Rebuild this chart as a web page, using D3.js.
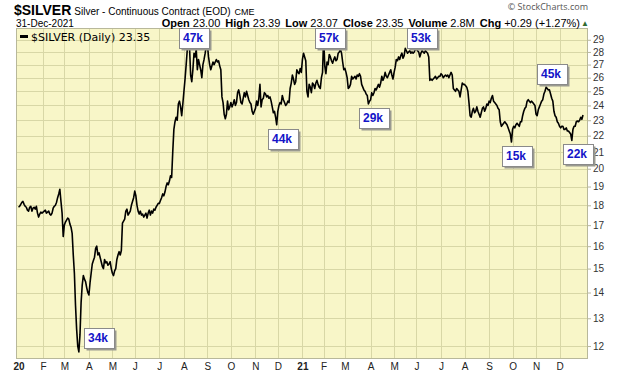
<!DOCTYPE html>
<html>
<head>
<meta charset="utf-8">
<script src="https://cdn.jsdelivr.net/npm/d3@7"></script>
<style>
body { margin: 0; background: #fff; }
svg { display: block; }
</style>
</head>
<body>
<div id="chart"></div>
<script>
// daily closes, one inner array per month
var closes2020 = [
	[17.9,17.95,18.05,18.15,18.2,18.05,17.95,17.9,17.75,17.7,17.9,17.95,17.7,17.85,17.9,17.8,17.95,17.6,17.4,17.55,17.65,17.6],
	[17.65,17.7,17.75,17.6,17.65,17.7,17.55,17.5,17.6,17.85,17.95,18.0,18.15,18.4,18.6,18.85,18.2,17.6,16.45],
	[17.0,17.15,17.25,17.35,17.3,17.05,16.9,16.6,15.6,14.8,13.5,12.6,12.0,11.8,12.4,13.6,14.3,14.7,14.55,14.45,14.2,14.0],
	[13.9,14.4,14.8,15.2,15.35,15.5,15.9,16.0,15.6,15.7,15.5,15.3,15.1,15.0,15.4,15.25,15.3,15.15,15.2,15.3,15.0],
	[14.8,14.7,14.9,15.0,15.4,15.6,15.75,15.6,15.8,17.1,17.2,17.3,17.7,17.8,17.5,17.6,17.7,18.0,18.2,18.4],
	[18.75,18.5,18.0,17.7,17.55,17.7,17.5,17.55,17.4,17.5,17.6,17.35,17.6,17.75,17.5,17.7,17.6,17.8,17.75,17.9,18.0,18.1],
	[18.1,18.25,18.4,18.6,18.5,18.7,19.0,19.2,19.1,19.3,19.6,19.5,21.0,22.4,22.9,23.2,23.0,24.1,24.3,23.9,23.3,24.1],
	[25.0,25.9,27.0,28.2,28.7,28.4,26.2,25.7,26.6,27.9,27.6,28.2,26.6,27.4,27.0,26.6,26.0,27.0,27.4,27.9,28.5],
	[28.6,27.6,27.0,26.6,26.9,27.2,27.0,27.2,27.4,27.2,27.3,26.9,26.6,24.6,24.2,23.4,23.1,23.4,24.3,23.7,23.9],
	[24.2,23.9,24.1,24.4,24.0,24.2,24.9,25.1,24.7,24.2,24.1,24.5,24.9,24.6,25.0,24.7,24.4,24.2,24.1,23.6,23.4,23.6],
	[23.8,24.3,24.0,24.5,25.5,23.9,24.4,24.5,24.9,24.8,24.6,24.7,24.5,24.6,24.3,23.9,23.5,23.6,23.2,22.7],
	[23.6,24.0,24.2,24.1,24.7,24.4,24.2,24.0,24.1,24.3,24.2,25.2,25.6,26.2,25.9,25.5,25.7,26.6,26.4,26.3,26.7,26.4]
];
var closes2021 = [
	[27.4,27.9,27.6,27.3,25.0,24.6,25.5,25.3,24.9,25.6,25.5,25.2,25.6,25.8,25.5,25.3,25.2,26.0,26.4],
	[29.3,26.9,26.3,27.2,27.0,27.8,27.6,27.3,27.1,27.4,27.6,27.3,27.4,27.9,28.0,28.2,27.9,27.2,26.6],
	[26.7,26.4,26.0,25.2,25.3,25.5,26.1,25.9,26.0,26.1,25.9,26.2,26.1,26.3,26.1,25.5,25.3,25.1,25.0,24.8,24.7,24.1,24.3],
	[24.4,24.9,24.7,24.9,25.2,25.1,25.3,25.5,25.3,25.6,26.1,25.8,26.0,26.4,26.1,26.0,26.2,26.4,26.6,26.2,25.9],
	[26.4,26.8,27.4,27.3,27.6,27.4,27.7,27.9,27.5,27.7,28.3,28.1,27.9,28.0,28.1,27.9,28.0,27.9,28.0,28.2],
	[28.3,28.1,28.0,27.6,27.9,28.1,28.0,27.9,28.1,28.0,27.9,27.6,25.8,25.9,25.8,25.9,26.0,26.1,25.9,26.0,26.1,26.1],
	[26.3,26.2,26.0,26.1,26.2,26.1,26.2,26.0,26.2,26.4,26.2,25.2,25.1,25.0,25.2,25.1,25.0,24.6,25.1,25.6,25.5],
	[25.5,25.4,25.3,25.0,24.2,23.3,23.2,23.6,23.8,23.5,23.6,23.9,23.6,23.4,23.2,23.5,23.8,23.9,23.6,23.8,24.1,24.0],
	[24.3,24.2,24.5,24.7,24.3,24.2,24.1,24.0,23.8,23.7,22.9,22.6,22.7,22.8,22.9,22.8,22.7,22.5,22.3,22.1,21.6],
	[22.4,22.6,22.5,22.7,22.8,22.7,22.6,22.9,22.9,23.3,23.6,23.8,23.9,24.3,24.4,24.3,24.2,24.3,24.2,24.1,24.0],
	[23.4,23.3,23.7,23.9,24.1,24.3,24.4,24.8,25.0,25.3,25.2,25.1,25.1,24.8,24.5,24.3,23.6,23.3,23.2,22.9,22.8],
	[22.6,22.5,22.6,22.6,22.4,22.4,22.5,22.3,22.3,22.2,22.1,21.7,22.4,22.6,22.6,22.9,22.95,22.9,23.0,23.2,23.06,23.35]
];
var monthLabels = ["20","F","M","A","M","J","J","A","S","O","N","D","21","F","M","A","M","J","J","A","S","O","N","D"];
var priceTicks = [12,13,14,15,16,17,18,19,20,21,22,23,24,25,26,27,28,29];

// volume notes at swing points
var volLabels = ["34k","47k","44k","57k","29k","53k","15k","45k","22k"];
var volDays = [54, 152, 231, 273, 313, 356, 441, 472, 495];
var volSide = ["right","above","below","above","below","above","below","above","below"];

var width = 620, height = 376;
var plot = {left: 16, right: 588, top: 28, bottom: 359};
var sans = "'Liberation Sans', Arial, sans-serif";

//flatten months
var series = [];
var monthStarts = [];
closes2020.concat(closes2021).forEach(function(m) {
	monthStarts.push(series.length);
	m.forEach(function(v) { series.push(v); });
});

var x = d3.scaleLinear().domain([0, series.length - 1]).range([18.5, 583]);
var y = d3.scaleLog().domain([11.56, 30.0]).range([plot.bottom, plot.top]);

var svg = d3.select("#chart").append("svg")
	.attr("width", width)
	.attr("height", height);

//plot background
svg.append("rect")
	.attr("x", plot.left).attr("y", plot.top)
	.attr("width", plot.right - plot.left).attr("height", plot.bottom - plot.top)
	.attr("fill", "#f8f6c8");

//grid
svg.append("g").selectAll("line")
	.data(priceTicks)
	.enter().append("line")
	.attr("x1", plot.left).attr("x2", plot.right)
	.attr("y1", function(d) { return Math.round(y(d)) + 0.5; })
	.attr("y2", function(d) { return Math.round(y(d)) + 0.5; })
	.attr("stroke", "#d8d7a6").attr("stroke-width", 1);

svg.append("g").selectAll("line")
	.data(monthStarts.slice(1))
	.enter().append("line")
	.attr("x1", function(d) { return Math.round(x(d)) + 0.5; })
	.attr("x2", function(d) { return Math.round(x(d)) + 0.5; })
	.attr("y1", plot.top).attr("y2", plot.bottom)
	.attr("stroke", "#d8d7a6").attr("stroke-width", 1);

svg.append("rect")
	.attr("x", plot.left + 0.5).attr("y", plot.top + 0.5)
	.attr("width", plot.right - plot.left - 1).attr("height", plot.bottom - plot.top - 1)
	.attr("fill", "none").attr("stroke", "#b8b89a");

//price line
var line = d3.line()
	.x(function(d, i) { return x(i); })
	.y(function(d) { return y(d); });

svg.append("path")
	.datum(series)
	.attr("d", line)
	.attr("fill", "none")
	.attr("stroke", "#000")
	.attr("stroke-width", 1.6)
	.attr("stroke-linejoin", "round");

//y axis on the right
var yAxis = d3.axisRight(y)
	.tickValues(priceTicks)
	.tickFormat(d3.format("d"))
	.tickSize(3)
	.tickPadding(2);
var gy = svg.append("g")
	.attr("transform", "translate(" + plot.right + ",0)")
	.call(yAxis);
gy.select(".domain").remove();
gy.selectAll(".tick line").attr("stroke", "#b8b89a");
gy.selectAll(".tick text")
	.attr("font-family", sans).attr("font-size", "10px").attr("fill", "#333");

//x axis month labels
var xAxis = d3.axisBottom(x)
	.tickValues(monthStarts)
	.tickFormat(function(d, i) { return monthLabels[i]; })
	.tickSize(0)
	.tickPadding(4);
var gx = svg.append("g")
	.attr("transform", "translate(0," + plot.bottom + ")")
	.call(xAxis);
gx.select(".domain").remove();
gx.selectAll(".tick text")
	.attr("font-family", sans).attr("font-size", "10px").attr("fill", "#222")
	.attr("font-weight", function(d, i) { return monthLabels[i].length > 1 ? "bold" : "normal"; });

//volume boxes
var boxW = 30, boxH = 20;
var notes = svg.append("g").selectAll("g")
	.data(volLabels)
	.enter().append("g")
	.attr("transform", function(d, k) {
		var px = x(volDays[k]), py = y(series[volDays[k]]);
		var bx, by;
		if (volSide[k] == "right") {
			bx = px + 5; by = py - 4 - boxH;
		} else if (volSide[k] == "above") {
			bx = px - 9; by = Math.max(plot.top, py - 3 - boxH);
		} else {
			bx = px - 9; by = py + 4;
		}
		return "translate(" + Math.round(bx) + "," + Math.round(by) + ")";
	});
notes.append("rect")
	.attr("x", 2.5).attr("y", 2.5).attr("width", boxW).attr("height", boxH)
	.attr("fill", "#9a9a90");
notes.append("rect")
	.attr("x", 0.5).attr("y", 0.5).attr("width", boxW).attr("height", boxH)
	.attr("fill", "#fff").attr("stroke", "#8a8a8a");
notes.append("text")
	.attr("x", 4).attr("y", 14)
	.attr("font-family", sans).attr("font-size", "12px").attr("font-weight", "bold")
	.attr("fill", "#1414c8")
	.text(function(d) { return d; });

//legend
svg.append("line")
	.attr("x1", 20).attr("x2", 28).attr("y1", 36.5).attr("y2", 36.5)
	.attr("stroke", "#000").attr("stroke-width", 3);
svg.append("text")
	.attr("x", 31).attr("y", 40.5)
	.attr("font-family", "'DejaVu Sans', Verdana, sans-serif").attr("font-size", "11px").attr("fill", "#000")
	.text("$SILVER (Daily) 23.35");

//header
var title = svg.append("text").attr("x", 14).attr("y", 15).attr("font-family", sans).attr("fill", "#000");
title.append("tspan").attr("font-size", "14px").attr("font-weight", "bold").text("$SILVER");
title.append("tspan").attr("dx", 3).attr("font-size", "10px").text("Silver - Continuous Contract (EOD)");
title.append("tspan").attr("dx", 4).attr("font-size", "9px").text("CME");

svg.append("text").attr("x", 16).attr("y", 27)
	.attr("font-family", sans).attr("font-size", "10px").attr("fill", "#000")
	.text("31-Dec-2021");

var stats = [["Open", "23.00"], ["High", "23.39"], ["Low", "23.07"], ["Close", "23.35"], ["Volume", "2.8M"], ["Chg", "+0.29 (+1.27%)"]];
var head = svg.append("text").attr("x", 580).attr("y", 27).attr("text-anchor", "end")
	.attr("font-family", sans).attr("font-size", "11px").attr("fill", "#000");
stats.forEach(function(s, k) {
	head.append("tspan").attr("dx", k ? 5 : 0).attr("font-weight", "bold").text(s[0]);
	head.append("tspan").attr("dx", 3).text(s[1]);
});
svg.append("text").attr("x", 585).attr("y", 26).attr("text-anchor", "middle")
	.attr("font-family", sans).attr("font-size", "8px").attr("fill", "#2f6b2f")
	.text("▲");

svg.append("text").attr("x", 588).attr("y", 10).attr("text-anchor", "end")
	.attr("font-family", "'Open Sans', sans-serif").attr("font-size", "9px").attr("fill", "#555")
	.text("© StockCharts.com");
</script>
</body>
</html>
